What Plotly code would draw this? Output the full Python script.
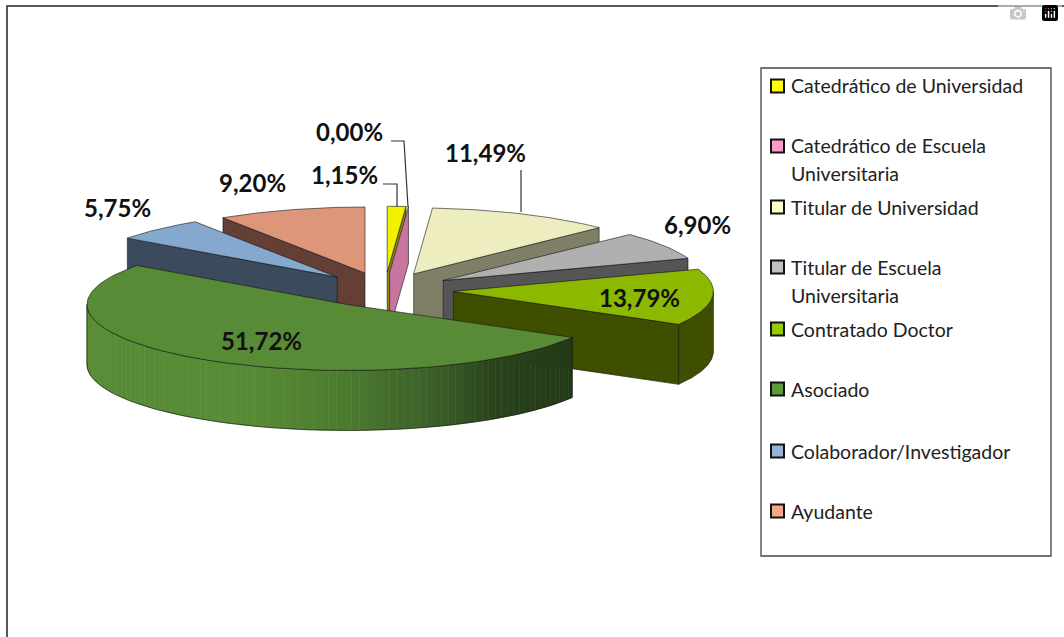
import numpy as np
import plotly.graph_objects as go

# ---- data ----
categories = ["Catedrático de Universidad", "Catedrático de Escuela Universitaria",
              "Titular de Universidad", "Titular de Escuela Universitaria",
              "Contratado Doctor", "Asociado", "Colaborador/Investigador", "Ayudante"]
values = [1.15, 0.00, 11.49, 6.90, 13.79, 51.72, 5.75, 9.20]

top_colors = ["#F2F200", "#C8759F", "#EDEDC0", "#B0B0B0", "#8CB800", "#588B36", "#85A8CE", "#DE967B"]
wall_colors = ["#8A8A10", "#C8759F", "#7F7F67", "#555555", "#3F4F00", "#588B36", "#3B4A5C", "#633F35"]
swatch_colors = ["#FFFF00", "#FF99CC", "#FFFFCC", "#C0C0C0", "#99CC00", "#5F9A3A", "#95B3D7", "#F2A98A"]

legend_lines = [["Catedrático de Universidad"], ["Catedrático de Escuela", "Universitaria"],
                ["Titular de Universidad"], ["Titular de Escuela", "Universitaria"],
                ["Contratado Doctor"], ["Asociado"], ["Colaborador/Investigador"], ["Ayudante"]]
legend_y = [[85], [145, 173], [207], [267, 295], [329], [389], [451], [511]]
swatch_y = [86, 146, 207, 267, 329, 389, 451, 511]

label_xy = [(344, 174), (349, 131), (485, 152), (697, 224), (639, 297), (261, 340), (117, 207), (252, 182)]
leaders = [[(383, 184), (397, 184), (397, 207)],
           [(391, 141), (404, 141), (408, 207)],
           [(521, 170), (521, 212)]]

# ---- pie geometry ----
CX, CY, RX, RY, EXPLODE, DEPTH = 384.7, 289.8, 260, 66, 69, 60
K = RY / RX
OUT = "rgba(20,20,20,0.75)"
FONT = "Lato"

fracs = np.array(values) / sum(values)
starts = np.concatenate([[0], np.cumsum(fracs)[:-1]]) * 360
ends = starts + fracs * 360


def tip(i):
    m = np.radians((starts[i] + ends[i]) / 2)
    return CX + EXPLODE * np.sin(m), CY - EXPLODE * K * np.cos(m)


def rim(tx, ty, a):
    a = np.radians(a)
    return tx + RX * np.sin(a), ty - RY * np.cos(a)


fig = go.Figure()


def poly(xs, ys, fill=None, line=OUT, w=0.8):
    fig.add_trace(go.Scatter(
        x=list(xs), y=list(ys), mode="lines", fill="toself" if fill else None,
        fillcolor=fill, line=dict(color=line, width=w), hoverinfo="skip", showlegend=False))


def edge_wall(i, angle, depth=DEPTH):
    tx, ty = tip(i)
    ox, oy = rim(tx, ty, angle)
    poly([tx, ox, ox, tx, tx], [ty, oy, oy + depth, ty + depth, ty], wall_colors[i])


def top_face(i):
    tx, ty = tip(i)
    a = np.linspace(starts[i], ends[i], 80)
    ax, ay = rim(tx, ty, a)
    poly([tx, *ax, tx], [ty, *ay, ty], top_colors[i])


def lerp_color(x):
    xp = [87, 250, 350, 430, 500, 572]
    r = np.interp(x, xp, [0x58, 0x58, 0x4C, 0x3C, 0x28, 0x23])
    g = np.interp(x, xp, [0x8B, 0x8B, 0x7A, 0x60, 0x42, 0x3A])
    b = np.interp(x, xp, [0x36, 0x36, 0x2F, 0x28, 0x1C, 0x17])
    return f"rgb({r:.0f},{g:.0f},{b:.0f})"


def front_rim(i, gradient=False):
    tx, ty = tip(i)
    a0, a1 = max(starts[i], 90), min(ends[i], 270)
    if gradient:
        edges = np.linspace(a0, a1, 90)
        for s, e in zip(edges[:-1], edges[1:]):
            x0, y0 = rim(tx, ty, s)
            x1, y1 = rim(tx, ty, e)
            col = lerp_color((x0 + x1) / 2)
            poly([x0, x1, x1, x0, x0], [y0, y1, y1 + DEPTH, y0 + DEPTH, y0], col, line=col, w=0.6)
    a = np.linspace(a0, a1, 80)
    ax, ay = rim(tx, ty, a)
    if gradient:
        poly([*ax, *ax[::-1], ax[0]], [*ay, *(ay[::-1] + DEPTH), ay[0]], None)
    else:
        poly([*ax, *ax[::-1], ax[0]], [*ay, *(ay[::-1] + DEPTH), ay[0]], wall_colors[i])


# back to front
order_walls = {7: starts[7], 6: starts[6], 0: ends[0], 1: ends[1], 2: ends[2], 3: ends[3], 4: ends[4]}
for i in [7, 6]:
    edge_wall(i, order_walls[i])
    top_face(i)

edge_wall(0, ends[0])
edge_wall(1, ends[1], depth=57)
top_face(0)

for i in [2, 3, 4]:
    edge_wall(i, ends[i])
    front_rim(i) if ends[i] > 90 else None
    top_face(i)

front_rim(5, gradient=True)
top_face(5)

# leader lines
for pts in leaders:
    poly([p[0] for p in pts], [p[1] for p in pts], None, line="#333333", w=1.2)

annotations = []
for v, (x, y) in zip(values, label_xy):
    annotations.append(dict(x=x, y=y, xref="x", yref="y", showarrow=False,
                            text="<b>" + f"{v:.2f}".replace(".", ",") + "%</b>",
                            font=dict(family=FONT, size=24, color="#111111"),
                            xanchor="center", yanchor="middle"))
for lines, ys in zip(legend_lines, legend_y):
    for t, y in zip(lines, ys):
        annotations.append(dict(x=789, y=y, xref="x", yref="y", showarrow=False, text=t,
                                font=dict(family=FONT, size=19.5, color="#222222"),
                                xanchor="left", yanchor="middle"))

shapes = [
    dict(type="rect", x0=7, y0=6, x1=1080, y1=660, xref="x", yref="y",
         line=dict(color="#222222", width=1.5), fillcolor="rgba(0,0,0,0)", layer="below"),
    dict(type="rect", x0=761, y0=68, x1=1051, y1=556, xref="x", yref="y",
         line=dict(color="#444444", width=1.3), fillcolor="white", layer="below"),
]
for c, y in zip(swatch_colors, swatch_y):
    shapes.append(dict(type="rect", x0=771, x1=784, y0=y - 6.5, y1=y + 6.5, xref="x", yref="y",
                       line=dict(color="#111111", width=2), fillcolor=c))

fig.update_layout(
    width=1064, height=637, margin=dict(l=0, r=0, t=0, b=0),
    paper_bgcolor="white", plot_bgcolor="white", showlegend=False,
    xaxis=dict(range=[0, 1064], visible=False, fixedrange=True),
    yaxis=dict(range=[637, 0], visible=False, fixedrange=True),
    shapes=shapes, annotations=annotations)

fig.write_html("out.html", post_script="document.body.style.margin='0';")
